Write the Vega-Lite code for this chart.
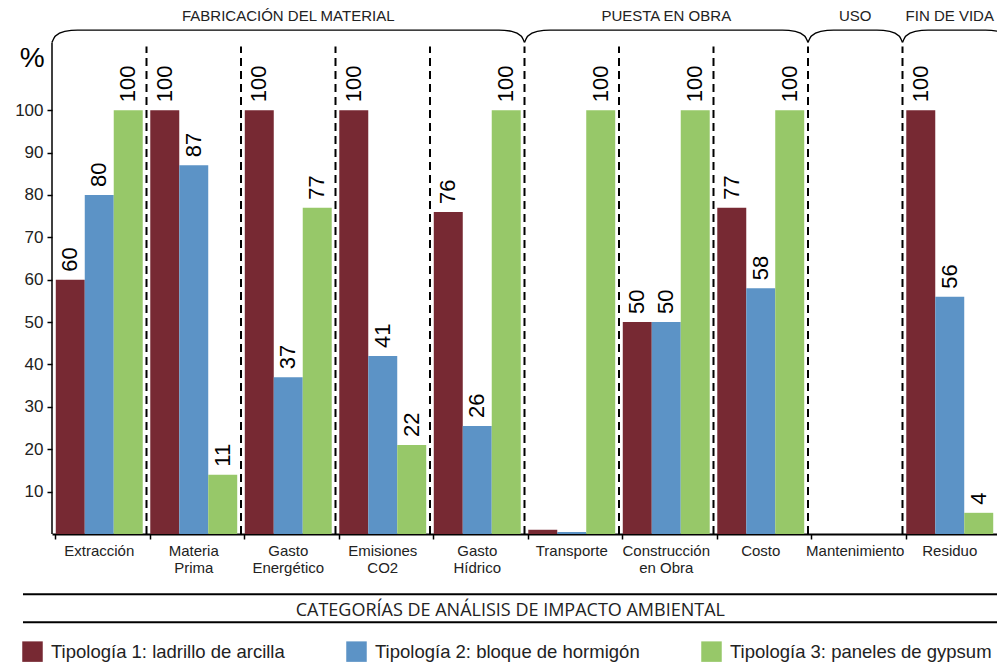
{
  "$schema": "https://vega.github.io/schema/vega-lite/v6.json",
  "width": 945,
  "height": 534,
  "autosize": {"type": "none"},
  "padding": {"left": 52, "top": 0, "right": 0, "bottom": 132},
  "background": "white",
  "config": {"view": {"stroke": null}, "font": "Liberation Sans"},
  "datasets": {
    "barras": [
      {"categoria": "Extracción", "tipologia": "Tipología 1: ladrillo de arcilla", "valor": 60, "etiqueta": "60"},
      {"categoria": "Extracción", "tipologia": "Tipología 2: bloque de hormigón", "valor": 80, "etiqueta": "80"},
      {"categoria": "Extracción", "tipologia": "Tipología 3: paneles de gypsum", "valor": 100, "etiqueta": "100"},
      {"categoria": "Materia Prima", "tipologia": "Tipología 1: ladrillo de arcilla", "valor": 100, "etiqueta": "100"},
      {"categoria": "Materia Prima", "tipologia": "Tipología 2: bloque de hormigón", "valor": 87, "etiqueta": "87"},
      {"categoria": "Materia Prima", "tipologia": "Tipología 3: paneles de gypsum", "valor": 14, "etiqueta": "11"},
      {"categoria": "Gasto Energético", "tipologia": "Tipología 1: ladrillo de arcilla", "valor": 100, "etiqueta": "100"},
      {"categoria": "Gasto Energético", "tipologia": "Tipología 2: bloque de hormigón", "valor": 37, "etiqueta": "37"},
      {"categoria": "Gasto Energético", "tipologia": "Tipología 3: paneles de gypsum", "valor": 77, "etiqueta": "77"},
      {"categoria": "Emisiones CO2", "tipologia": "Tipología 1: ladrillo de arcilla", "valor": 100, "etiqueta": "100"},
      {"categoria": "Emisiones CO2", "tipologia": "Tipología 2: bloque de hormigón", "valor": 42, "etiqueta": "41"},
      {"categoria": "Emisiones CO2", "tipologia": "Tipología 3: paneles de gypsum", "valor": 21, "etiqueta": "22"},
      {"categoria": "Gasto Hídrico", "tipologia": "Tipología 1: ladrillo de arcilla", "valor": 76, "etiqueta": "76"},
      {"categoria": "Gasto Hídrico", "tipologia": "Tipología 2: bloque de hormigón", "valor": 25.5, "etiqueta": "26"},
      {"categoria": "Gasto Hídrico", "tipologia": "Tipología 3: paneles de gypsum", "valor": 100, "etiqueta": "100"},
      {"categoria": "Transporte", "tipologia": "Tipología 1: ladrillo de arcilla", "valor": 1, "etiqueta": ""},
      {"categoria": "Transporte", "tipologia": "Tipología 2: bloque de hormigón", "valor": 0.5, "etiqueta": ""},
      {"categoria": "Transporte", "tipologia": "Tipología 3: paneles de gypsum", "valor": 100, "etiqueta": "100"},
      {"categoria": "Construcción en Obra", "tipologia": "Tipología 1: ladrillo de arcilla", "valor": 50, "etiqueta": "50"},
      {"categoria": "Construcción en Obra", "tipologia": "Tipología 2: bloque de hormigón", "valor": 50, "etiqueta": "50"},
      {"categoria": "Construcción en Obra", "tipologia": "Tipología 3: paneles de gypsum", "valor": 100, "etiqueta": "100"},
      {"categoria": "Costo", "tipologia": "Tipología 1: ladrillo de arcilla", "valor": 77, "etiqueta": "77"},
      {"categoria": "Costo", "tipologia": "Tipología 2: bloque de hormigón", "valor": 58, "etiqueta": "58"},
      {"categoria": "Costo", "tipologia": "Tipología 3: paneles de gypsum", "valor": 100, "etiqueta": "100"},
      {"categoria": "Mantenimiento", "tipologia": "Tipología 1: ladrillo de arcilla", "valor": 0, "etiqueta": ""},
      {"categoria": "Mantenimiento", "tipologia": "Tipología 2: bloque de hormigón", "valor": 0, "etiqueta": ""},
      {"categoria": "Mantenimiento", "tipologia": "Tipología 3: paneles de gypsum", "valor": 0, "etiqueta": ""},
      {"categoria": "Residuo", "tipologia": "Tipología 1: ladrillo de arcilla", "valor": 100, "etiqueta": "100"},
      {"categoria": "Residuo", "tipologia": "Tipología 2: bloque de hormigón", "valor": 56, "etiqueta": "56"},
      {"categoria": "Residuo", "tipologia": "Tipología 3: paneles de gypsum", "valor": 5, "etiqueta": "4"}
    ],
    "limites": [{"b": 1}, {"b": 2}, {"b": 3}, {"b": 4}, {"b": 5}, {"b": 6}, {"b": 7}, {"b": 8}, {"b": 9}],
    "llaves": [
      {"g": "F", "o": 1, "x": 0, "y": 116}, {"g": "F", "o": 2, "x": 0.036, "y": 117.5}, {"g": "F", "o": 3, "x": 0.135, "y": 118.6}, {"g": "F", "o": 4, "x": 0.27, "y": 118.9},
      {"g": "F", "o": 5, "x": 4.73, "y": 118.9}, {"g": "F", "o": 6, "x": 4.865, "y": 118.6}, {"g": "F", "o": 7, "x": 4.964, "y": 117.5}, {"g": "F", "o": 8, "x": 5, "y": 116},
      {"g": "P", "o": 1, "x": 5, "y": 116}, {"g": "P", "o": 2, "x": 5.036, "y": 117.5}, {"g": "P", "o": 3, "x": 5.135, "y": 118.6}, {"g": "P", "o": 4, "x": 5.27, "y": 118.9},
      {"g": "P", "o": 5, "x": 7.73, "y": 118.9}, {"g": "P", "o": 6, "x": 7.865, "y": 118.6}, {"g": "P", "o": 7, "x": 7.964, "y": 117.5}, {"g": "P", "o": 8, "x": 8, "y": 116},
      {"g": "U", "o": 1, "x": 8, "y": 116}, {"g": "U", "o": 2, "x": 8.036, "y": 117.5}, {"g": "U", "o": 3, "x": 8.135, "y": 118.6}, {"g": "U", "o": 4, "x": 8.27, "y": 118.9},
      {"g": "U", "o": 5, "x": 8.73, "y": 118.9}, {"g": "U", "o": 6, "x": 8.865, "y": 118.6}, {"g": "U", "o": 7, "x": 8.964, "y": 117.5}, {"g": "U", "o": 8, "x": 9, "y": 116},
      {"g": "V", "o": 1, "x": 9, "y": 116}, {"g": "V", "o": 2, "x": 9.036, "y": 117.5}, {"g": "V", "o": 3, "x": 9.135, "y": 118.6}, {"g": "V", "o": 4, "x": 9.27, "y": 118.9},
      {"g": "V", "o": 5, "x": 9.88, "y": 118.9}, {"g": "V", "o": 6, "x": 10.015, "y": 118.6}, {"g": "V", "o": 7, "x": 10.114, "y": 117.5}, {"g": "V", "o": 8, "x": 10.15, "y": 116}
    ],
    "etapas": [
      {"etapa": "FABRICACIÓN DEL MATERIAL", "centro": 2.5},
      {"etapa": "PUESTA EN OBRA", "centro": 6.5},
      {"etapa": "USO", "centro": 8.5},
      {"etapa": "FIN DE VIDA", "centro": 9.5}
    ]
  },
  "layer": [
    {
      "data": {"name": "barras"},
      "mark": {"type": "bar"},
      "encoding": {
        "x": {
          "field": "categoria", "type": "nominal",
          "sort": ["Extracción", "Materia Prima", "Gasto Energético", "Emisiones CO2", "Gasto Hídrico", "Transporte", "Construcción en Obra", "Costo", "Mantenimiento", "Residuo"],
          "scale": {"paddingInner": 0.08, "paddingOuter": 0.04},
          "axis": {
            "title": null, "labelAngle": 0,
            "labelExpr": "indexof(datum.label, ' ') > 0 ? [substring(datum.label, 0, indexof(datum.label, ' ')), substring(datum.label, indexof(datum.label, ' ') + 1)] : datum.label",
            "labelFontSize": 15, "labelColor": "#222", "labelLineHeight": 17, "labelPadding": 4,
            "domainColor": "black", "domainWidth": 2, "tickColor": "black", "tickSize": 5, "tickWidth": 1.5, "bandPosition": 0
          }
        },
        "xOffset": {"field": "tipologia", "type": "nominal", "scale": {"paddingInner": 0, "paddingOuter": 0}},
        "y": {
          "field": "valor", "type": "quantitative",
          "scale": {"domain": [0, 126], "nice": false},
          "axis": {"title": null, "values": [10, 20, 30, 40, 50, 60, 70, 80, 90, 100], "domain": false, "grid": false, "labelFontSize": 17, "labelColor": "#222", "tickColor": "black", "tickSize": 5, "tickWidth": 1.5, "labelPadding": 4}
        },
        "color": {
          "field": "tipologia", "type": "nominal",
          "scale": {"range": ["#772933", "#5C93C6", "#97C869"]},
          "legend": {"title": null, "orient": "none", "legendX": -30, "legendY": 641, "direction": "horizontal", "symbolType": "square", "symbolSize": 420, "symbolStrokeWidth": 0, "symbolOpacity": 1, "labelFontSize": 18.5, "labelLimit": 400, "labelColor": "#222", "labelOffset": 8, "columnPadding": 61, "padding": 0}
        }
      }
    },
    {
      "data": {"name": "barras"},
      "mark": {"type": "text", "angle": 270, "align": "left", "baseline": "middle", "dx": 8, "fontSize": 22, "color": "black"},
      "encoding": {
        "x": {"field": "categoria", "type": "nominal", "sort": ["Extracción", "Materia Prima", "Gasto Energético", "Emisiones CO2", "Gasto Hídrico", "Transporte", "Construcción en Obra", "Costo", "Mantenimiento", "Residuo"], "scale": {"paddingInner": 0.08, "paddingOuter": 0.04}, "axis": null},
        "xOffset": {"field": "tipologia", "type": "nominal", "scale": {"paddingInner": 0, "paddingOuter": 0}},
        "y": {"field": "valor", "type": "quantitative"},
        "text": {"field": "etiqueta"}
      }
    },
    {
      "data": {"name": "limites"},
      "mark": {"type": "rule", "strokeDash": [8, 5], "strokeWidth": 2, "color": "black"},
      "encoding": {
        "x": {"field": "b", "type": "quantitative", "scale": {"domain": [0, 10], "nice": false, "zero": false}, "axis": null},
        "y": {"datum": 0},
        "y2": {"datum": 115}
      }
    },
    {
      "data": {"values": [{"x": 0}]},
      "mark": {"type": "rule", "strokeWidth": 1.5, "color": "black"},
      "encoding": {
        "x": {"field": "x", "type": "quantitative", "scale": {"domain": [0, 10], "nice": false, "zero": false}, "axis": null},
        "y": {"datum": 0},
        "y2": {"datum": 116}
      }
    },
    {
      "data": {"name": "llaves"},
      "mark": {"type": "line", "interpolate": "monotone", "strokeWidth": 1.4, "color": "black"},
      "encoding": {
        "x": {"field": "x", "type": "quantitative", "scale": {"domain": [0, 10], "nice": false, "zero": false}, "axis": null},
        "y": {"field": "y", "type": "quantitative"},
        "detail": {"field": "g"},
        "order": {"field": "o", "type": "quantitative"}
      }
    },
    {
      "data": {"name": "etapas"},
      "mark": {"type": "text", "fontSize": 15, "color": "#222", "baseline": "middle", "align": "center"},
      "encoding": {
        "x": {"field": "centro", "type": "quantitative", "scale": {"domain": [0, 10], "nice": false, "zero": false}, "axis": null},
        "y": {"datum": 122.3},
        "text": {"field": "etapa"}
      }
    },
    {
      "data": {"values": [{"y": -14.2}, {"y": -20.8}]},
      "mark": {"type": "rule", "strokeWidth": 2, "color": "black"},
      "encoding": {
        "x": {"datum": -0.307, "type": "quantitative", "scale": {"domain": [0, 10], "nice": false, "zero": false}, "axis": null},
        "x2": {"datum": 10},
        "y": {"field": "y", "type": "quantitative"}
      }
    },
    {
      "data": {"values": [{"t": "CATEGORÍAS DE ANÁLISIS DE IMPACTO AMBIENTAL"}]},
      "mark": {"type": "text", "font": "Open Sans", "fontSize": 18, "color": "#222", "baseline": "middle", "align": "center"},
      "encoding": {
        "x": {"datum": 4.85, "type": "quantitative", "scale": {"domain": [0, 10], "nice": false, "zero": false}, "axis": null},
        "y": {"datum": -18.1},
        "text": {"field": "t"}
      }
    },
    {
      "data": {"values": [{"t": "%"}]},
      "mark": {"type": "text", "fontSize": 28, "color": "black", "baseline": "middle", "align": "center"},
      "encoding": {
        "x": {"datum": -0.21, "type": "quantitative", "scale": {"domain": [0, 10], "nice": false, "zero": false}, "axis": null},
        "y": {"datum": 112},
        "text": {"field": "t"}
      }
    }
  ],
  "resolve": {"scale": {"x": "independent"}, "axis": {"x": "independent"}}
}
